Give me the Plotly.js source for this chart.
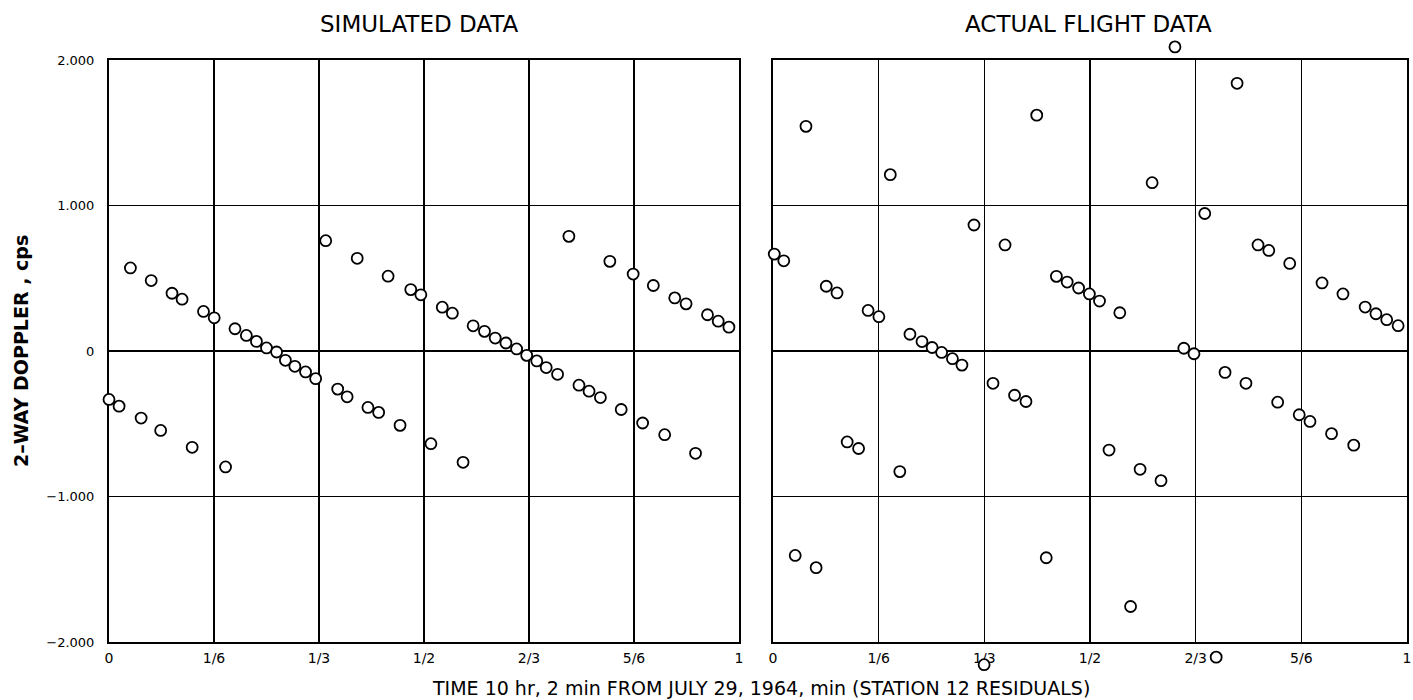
<!DOCTYPE html>
<html>
<head>
<meta charset="utf-8">
<script src="https://cdn.plot.ly/plotly-3.0.1.min.js"></script>
<style>html,body{margin:0;padding:0;background:#fff;}#chart{width:1413px;height:700px;}</style>
</head>
<body>
<div id="chart"></div>
<script>
// Time (fraction of a minute) and residuals (cps)
const simX = [0.000,0.016,0.034,0.051,0.067,0.082,0.100,0.116,0.132,0.150,0.167,0.185,0.200,0.218,0.234,0.250,0.266,0.280,0.295,0.312,0.328,0.344,0.363,0.378,0.394,0.411,0.428,0.443,0.462,0.479,0.495,0.511,0.529,0.545,0.562,0.578,0.596,0.613,0.630,0.647,0.663,0.679,0.694,0.712,0.730,0.746,0.762,0.780,0.795,0.813,0.832,0.847,0.864,0.882,0.898,0.916,0.931,0.950,0.967,0.984];
const simY = [-333,-379,571,-461,484,-546,397,356,-662,272,228,-797,153,107,66,21,-7,-64,-105,-144,-190,758,-262,-315,637,-388,-422,514,-511,422,386,-637,301,260,-765,173,135,89,55,14,-30,-68,-114,-160,788,-235,-276,-320,616,-402,529,-495,450,-575,365,324,-703,249,205,164];

const actX = [0.002,0.017,0.035,0.052,0.068,0.084,0.101,0.117,0.135,0.150,0.167,0.185,0.200,0.216,0.235,0.251,0.266,0.283,0.298,0.317,0.333,0.347,0.366,0.381,0.399,0.416,0.431,0.447,0.464,0.482,0.499,0.515,0.530,0.547,0.564,0.579,0.598,0.612,0.634,0.648,0.664,0.681,0.699,0.713,0.732,0.746,0.765,0.782,0.796,0.815,0.830,0.847,0.866,0.881,0.899,0.916,0.934,0.951,0.968,0.986];
const actY = [666,620,-1405,1544,-1489,445,399,-625,-670,279,236,1212,-829,115,65,24,-10,-53,-97,866,-2156,-222,729,-304,-347,1621,-1421,513,474,433,392,343,-681,263,-1756,-813,1157,-891,2090,19,-19,945,-2104,-147,1840,-222,729,691,-352,602,-438,-484,468,-568,392,-647,302,256,215,174];

const xTickVals = [0, 1/6, 1/3, 1/2, 2/3, 5/6, 1];
const xTickText = ['0', '1/6', '1/3', '1/2', '2/3', '5/6', '1'];
const yTickVals = [-2000, -1000, 0, 1000, 2000];
const yTickText = ['\u22122.000', '\u22121.000', '0', '1.000', '2.000'];

const panelTitles = ['SIMULATED DATA', 'ACTUAL FLIGHT DATA'];
const xTitle = 'TIME 10 hr, 2 min FROM JULY 29, 1964, min (STATION 12 RESIDUALS)';
const yTitle = '2\u2013WAY DOPPLER , cps';

const W = 1413, H = 700;
const FONT = 'DejaVu Sans, Arial, sans-serif';

// frame geometry (pixels)
const plotTop = 60, plotBot = 642;
const extTop = 25, extBot = 680;
const yMin = -2000, yMax = 2000;
const ppu = (plotBot - plotTop) / (yMax - yMin);
const extRange = [yMin - (extBot - plotBot) / ppu, yMax + (plotTop - extTop) / ppu];
const yDom = [1 - plotBot / H, 1 - plotTop / H];
const yDomExt = [1 - extBot / H, 1 - extTop / H];
const xDomL = [109 / W, 739 / W];
const xDomR = [773 / W, 1407 / W];

const marker = {symbol: 'circle', size: 11, color: '#ffffff', line: {color: '#000000', width: 1.8}};

const traces = [
  {x: [], y: [], xaxis: 'x', yaxis: 'y', type: 'scatter', mode: 'markers', hoverinfo: 'skip'},
  {x: [], y: [], xaxis: 'x2', yaxis: 'y2', type: 'scatter', mode: 'markers', hoverinfo: 'skip'},
  {x: simX, y: simY, xaxis: 'x3', yaxis: 'y3', type: 'scatter', mode: 'markers', marker: marker, cliponaxis: false},
  {x: actX, y: actY, xaxis: 'x4', yaxis: 'y4', type: 'scatter', mode: 'markers', marker: marker, cliponaxis: false}
];

function xAxis(domain, anchor) {
  return {
    domain: domain, anchor: anchor, range: [0, 1], tickmode: 'array', tickvals: xTickVals, ticktext: xTickText,
    showgrid: true, gridcolor: '#000', gridwidth: 1.3, zeroline: false,
    showline: true, mirror: true, linecolor: '#000', linewidth: 2,
    ticks: '', ticklabelstandoff: 2,
    tickfont: {family: FONT, size: 14, color: '#000'}, fixedrange: true
  };
}
function yAxis(domain, anchor, showLabels) {
  return {
    domain: domain, anchor: anchor, range: [yMin, yMax], tickmode: 'array', tickvals: yTickVals, ticktext: yTickText,
    showticklabels: showLabels,
    showgrid: true, gridcolor: '#000', gridwidth: 1.3, zeroline: false,
    showline: true, mirror: true, linecolor: '#000', linewidth: 2,
    ticks: '', ticklabelstandoff: 10,
    tickfont: {family: FONT, size: 13, color: '#000'}, fixedrange: true
  };
}
function hiddenX(domain, anchor) {
  return {domain: domain, anchor: anchor, range: [0, 1], visible: false, fixedrange: true};
}
function hiddenY(anchor) {
  return {domain: yDomExt, anchor: anchor, range: extRange, visible: false, fixedrange: true};
}

const layout = {
  width: W, height: H,
  margin: {l: 0, r: 0, t: 0, b: 0},
  paper_bgcolor: '#fff', plot_bgcolor: 'rgba(0,0,0,0)',
  showlegend: false,
  xaxis: xAxis(xDomL, 'y'),
  yaxis: yAxis(yDom, 'x', true),
  xaxis2: xAxis(xDomR, 'y2'),
  yaxis2: yAxis(yDom, 'x2', false),
  xaxis3: hiddenX(xDomL, 'y3'),
  yaxis3: hiddenY('x3'),
  xaxis4: hiddenX(xDomR, 'y4'),
  yaxis4: hiddenY('x4'),
  annotations: [
    {text: panelTitles[0], xref: 'paper', yref: 'paper', x: 419 / W, y: 1 - 24 / H, showarrow: false, xanchor: 'center', yanchor: 'middle', font: {family: FONT, size: 23, color: '#000'}},
    {text: panelTitles[1], xref: 'paper', yref: 'paper', x: 1088 / W, y: 1 - 24 / H, showarrow: false, xanchor: 'center', yanchor: 'middle', font: {family: FONT, size: 23, color: '#000'}},
    {text: xTitle, xref: 'paper', yref: 'paper', x: 761 / W, y: 1 - 688 / H, showarrow: false, xanchor: 'center', yanchor: 'middle', font: {family: FONT, size: 19, color: '#000'}},
    {text: '<b>' + yTitle + '</b>', xref: 'paper', yref: 'paper', x: 21 / W, y: 1 - 351 / H, showarrow: false, xanchor: 'center', yanchor: 'middle', textangle: -90, font: {family: FONT, size: 19, color: '#000'}}
  ]
};

Plotly.newPlot('chart', traces, layout, {displayModeBar: false, staticPlot: true});
</script>
</body>
</html>
